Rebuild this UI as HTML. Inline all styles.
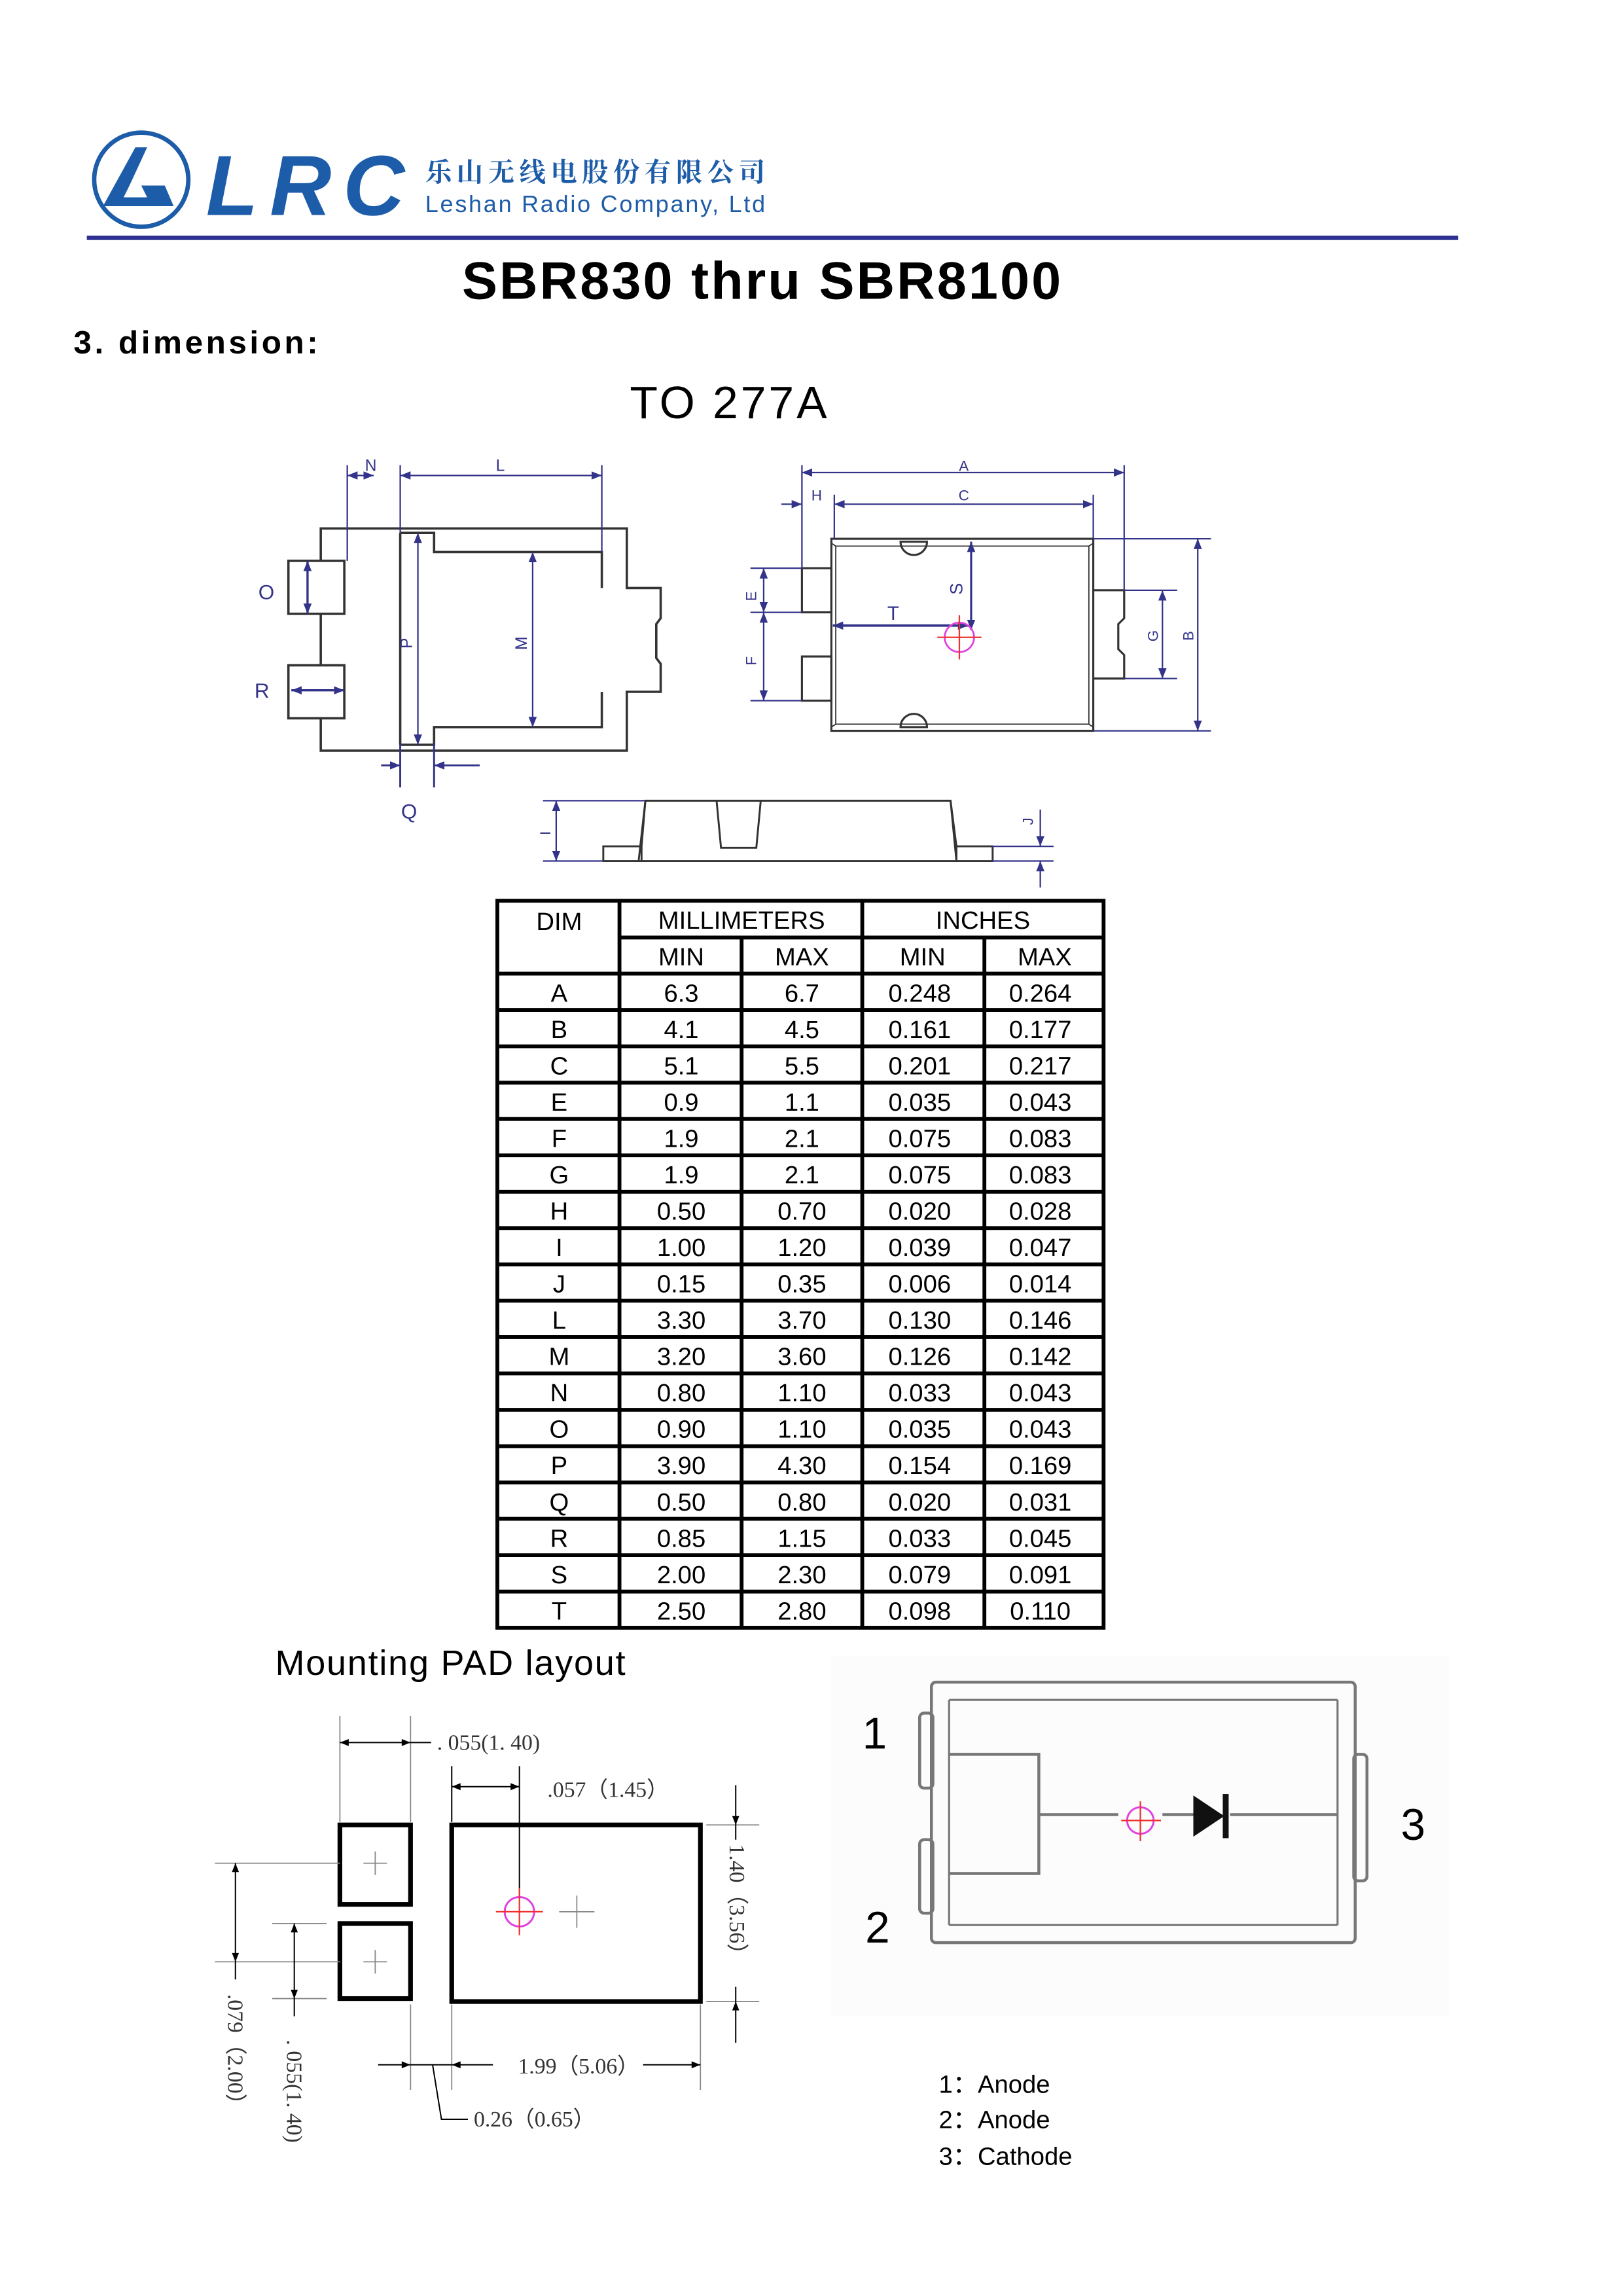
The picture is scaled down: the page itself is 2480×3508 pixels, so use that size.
<!DOCTYPE html>
<html><head><meta charset="utf-8"><style>
html,body{margin:0;padding:0;background:#fff}
svg{display:block}
</style></head><body>
<svg width="2480" height="3508" viewBox="0 0 1103 1560" xmlns="http://www.w3.org/2000/svg" font-family="'Liberation Sans', sans-serif">
<defs>
<marker id="ab" viewBox="0 0 10 10" refX="10" refY="5" markerWidth="7" markerHeight="7" orient="auto-start-reverse" markerUnits="userSpaceOnUse"><path d="M0,1 L10,5 L0,9 z" fill="#33338a"/></marker>
<marker id="ak" viewBox="0 0 10 10" refX="10" refY="5" markerWidth="8" markerHeight="6" orient="auto-start-reverse" markerUnits="userSpaceOnUse"><path d="M0,1 L10,5 L0,9 z" fill="#000"/></marker>
</defs>

<!-- Logo -->
<circle cx="96" cy="122" r="32" fill="none" stroke="#1d5ca8" stroke-width="3"/>
<path d="M70,140 L92,100 L100,100 L88,126 L112,126 L118,140 Z" fill="#1d5ca8"/>
<path d="M84,134 L92,118 L100,134 Z" fill="#fff"/>
<text x="140" y="146" font-size="58" font-weight="bold" font-style="italic" fill="#1d5ca8" textLength="135">LRC</text>
<text x="289" y="123" font-size="18" fill="#1d5ca8" font-family="'Noto Serif CJK SC', serif" font-weight="bold" textLength="231">乐山无线电股份有限公司</text>
<text x="289" y="144" font-size="16" fill="#1d5ca8" textLength="231">Leshan Radio Company, Ltd</text>
<rect x="59" y="160" width="932" height="3" fill="#2e3192"/>

<text x="314" y="203" font-size="36" font-weight="bold" textLength="407">SBR830 thru  SBR8100</text>
<text x="50" y="240" font-size="22" font-weight="bold" textLength="166">3.  dimension:</text>
<text x="428" y="284" font-size="31" textLength="134">TO 277A</text>

<!-- Left view -->
<g fill="none" stroke="#333" stroke-width="1.6">
<path d="M218,381 V359 H426 V399.5 H449 V420 L446,424 V447 L449,451 V470 H426 V510 H218 V488"/>
<path d="M218,417 V452"/>
<rect x="196" y="381" width="38" height="36"/>
<rect x="196" y="452" width="38" height="36"/>
<path d="M272,362 V506"/>
<path d="M272,362 H295 V375 H409 V399.5"/>
<path d="M409,470 V494 H295 V506 H272"/>
</g>
<g stroke="#33338a" stroke-width="1" fill="none">
<line x1="236" y1="316" x2="236" y2="381"/>
<line x1="272" y1="316" x2="272" y2="362"/>
<line x1="409" y1="316" x2="409" y2="375"/>
<line x1="236" y1="323" x2="254" y2="323" marker-start="url(#ab)" marker-end="url(#ab)"/>
<line x1="272" y1="323" x2="409" y2="323" marker-start="url(#ab)" marker-end="url(#ab)"/>
<line x1="209" y1="381" x2="209" y2="417" stroke-width="1.5" marker-start="url(#ab)" marker-end="url(#ab)"/>
<line x1="198" y1="469" x2="234" y2="469" stroke-width="1.5" marker-start="url(#ab)" marker-end="url(#ab)"/>
<line x1="284" y1="362" x2="284" y2="506" marker-start="url(#ab)" marker-end="url(#ab)"/>
<line x1="362" y1="375" x2="362" y2="494" marker-start="url(#ab)" marker-end="url(#ab)"/>
<line x1="272" y1="505" x2="272" y2="535" stroke-width="1.3"/>
<line x1="295" y1="505" x2="295" y2="535" stroke-width="1.3"/>
<line x1="259" y1="520" x2="272" y2="520" stroke-width="1.3" marker-end="url(#ab)"/>
<line x1="326" y1="520" x2="295" y2="520" stroke-width="1.3" marker-end="url(#ab)"/>
</g>
<g fill="#33338a" font-size="11" text-anchor="middle">
<text x="252" y="320">N</text><text x="340" y="320">L</text>
<text x="181" y="407" font-size="14">O</text><text x="178" y="474" font-size="14">R</text>
<text x="278" y="556" font-size="14">Q</text>
<text transform="translate(280,437) rotate(-90)">P</text>
<text transform="translate(358,437) rotate(-90)">M</text>
</g>

<!-- Right view -->
<g fill="none" stroke="#333" stroke-width="1.4">
<rect x="565" y="366" width="178" height="130.5"/>
<path d="M565,369 L568,371 H740 L743,369 M565,494 L568,492 H740 L743,494 M568,371 V492 M740,371 V492" stroke-width="0.8"/>
<rect x="545" y="386" width="20" height="30"/>
<rect x="545" y="446" width="20" height="30"/>
<path d="M743,401 H764 V420 L760,424 V441 L764,445 V461 H743"/>
<path d="M612,368 A9,9 0 0 0 630,368 Z M612,494 A9,9 0 0 1 630,494 Z"/>
</g>
<g stroke="#33338a" stroke-width="1" fill="none">
<line x1="545" y1="316" x2="545" y2="386"/>
<line x1="764" y1="316" x2="764" y2="401"/>
<line x1="567" y1="336" x2="567" y2="366"/>
<line x1="743" y1="336" x2="743" y2="366"/>
<line x1="545" y1="321" x2="764" y2="321" marker-start="url(#ab)" marker-end="url(#ab)"/>
<line x1="567" y1="342.5" x2="743" y2="342.5" marker-start="url(#ab)" marker-end="url(#ab)"/>
<line x1="531" y1="342.5" x2="545" y2="342.5" marker-end="url(#ab)"/>
<line x1="510" y1="386" x2="545" y2="386"/><line x1="510" y1="416" x2="545" y2="416"/><line x1="510" y1="476" x2="545" y2="476"/>
<line x1="519" y1="386" x2="519" y2="416" marker-start="url(#ab)" marker-end="url(#ab)"/>
<line x1="519" y1="416" x2="519" y2="476" marker-start="url(#ab)" marker-end="url(#ab)"/>
<line x1="764" y1="401" x2="800" y2="401"/><line x1="764" y1="461" x2="800" y2="461"/>
<line x1="790" y1="401" x2="790" y2="461" marker-start="url(#ab)" marker-end="url(#ab)"/>
<line x1="743" y1="366" x2="823" y2="366"/><line x1="743" y1="496.5" x2="823" y2="496.5"/>
<line x1="814" y1="366" x2="814" y2="496.5" marker-start="url(#ab)" marker-end="url(#ab)"/>
<line x1="660" y1="368" x2="660" y2="428" stroke-width="1.4" marker-start="url(#ab)" marker-end="url(#ab)"/>
<line x1="566" y1="425" x2="658" y2="425" stroke-width="1.6" marker-start="url(#ab)" marker-end="url(#ab)"/>
</g>
<circle cx="652" cy="433" r="10" fill="none" stroke="#e040e0" stroke-width="1.2"/>
<path d="M637,433 H667 M652,418 V448" stroke="#f03030" stroke-width="1"/>
<g fill="#33338a" font-size="10" text-anchor="middle">
<text x="655" y="320">A</text><text x="655" y="340">C</text><text x="555" y="340">H</text>
<text x="607" y="421" font-size="13">T</text>
<text transform="translate(514,405) rotate(-90)">E</text>
<text transform="translate(514,449) rotate(-90)">F</text>
<text transform="translate(787,432) rotate(-90)">G</text>
<text transform="translate(811,432) rotate(-90)">B</text>
<text transform="translate(654,400) rotate(-90)" font-size="12">S</text>
</g>

<!-- Side view -->
<g fill="none" stroke="#333" stroke-width="1.3">
<path d="M410,585 V575 H436 L438.6,544 H646 L650,575 H674.6 V585 Z"/>
<path d="M434,585 L438.6,544 M650,585 L646,544 M650,575 V585 M436,575 V585"/>
<path d="M487,544 L490,576 H514 L517,544"/>
</g>
<g stroke="#33338a" stroke-width="1" fill="none">
<line x1="369" y1="544" x2="438" y2="544"/><line x1="369" y1="585" x2="410" y2="585"/>
<line x1="378" y1="544" x2="378" y2="585" marker-start="url(#ab)" marker-end="url(#ab)"/>
<line x1="674" y1="575" x2="716" y2="575"/><line x1="674" y1="585" x2="716" y2="585"/>
<line x1="707" y1="550" x2="707" y2="575" marker-end="url(#ab)"/>
<line x1="707" y1="603" x2="707" y2="585" marker-end="url(#ab)"/>
</g>
<g fill="#33338a" font-size="10" text-anchor="middle">
<text transform="translate(374,566) rotate(-90)">I</text>
<text transform="translate(702,558) rotate(-90)">J</text>
</g>

<!-- Table -->
<g stroke="#000" stroke-width="2.6" fill="none">
<rect x="338" y="612" width="412" height="494"/>
<line x1="421" y1="612" x2="421" y2="1106"/>
<line x1="586" y1="612" x2="586" y2="1106"/>
<line x1="504" y1="637" x2="504" y2="1106"/>
<line x1="669" y1="637" x2="669" y2="1106"/>
<line x1="421" y1="637" x2="750" y2="637"/>
<line x1="338" y1="661.5" x2="750" y2="661.5"/>
<line x1="338" y1="686.2" x2="750" y2="686.2"/>
<line x1="338" y1="710.9" x2="750" y2="710.9"/>
<line x1="338" y1="735.6" x2="750" y2="735.6"/>
<line x1="338" y1="760.3" x2="750" y2="760.3"/>
<line x1="338" y1="785" x2="750" y2="785"/>
<line x1="338" y1="809.7" x2="750" y2="809.7"/>
<line x1="338" y1="834.4" x2="750" y2="834.4"/>
<line x1="338" y1="859.1" x2="750" y2="859.1"/>
<line x1="338" y1="883.8" x2="750" y2="883.8"/>
<line x1="338" y1="908.5" x2="750" y2="908.5"/>
<line x1="338" y1="933.2" x2="750" y2="933.2"/>
<line x1="338" y1="957.9" x2="750" y2="957.9"/>
<line x1="338" y1="982.6" x2="750" y2="982.6"/>
<line x1="338" y1="1007.3" x2="750" y2="1007.3"/>
<line x1="338" y1="1032" x2="750" y2="1032"/>
<line x1="338" y1="1056.7" x2="750" y2="1056.7"/>
<line x1="338" y1="1081.4" x2="750" y2="1081.4"/>
</g>
<g font-size="17" text-anchor="middle" fill="#000">
<text x="380" y="632">DIM</text><text x="504" y="631">MILLIMETERS</text><text x="668" y="631">INCHES</text>
<text x="463" y="656">MIN</text><text x="545" y="656">MAX</text><text x="627" y="656">MIN</text><text x="710" y="656">MAX</text>
<text x="380" y="680.5">A</text><text x="463" y="680.5">6.3</text><text x="545" y="680.5">6.7</text><text x="625" y="680.5">0.248</text><text x="707" y="680.5">0.264</text>
<text x="380" y="705.2">B</text><text x="463" y="705.2">4.1</text><text x="545" y="705.2">4.5</text><text x="625" y="705.2">0.161</text><text x="707" y="705.2">0.177</text>
<text x="380" y="729.9">C</text><text x="463" y="729.9">5.1</text><text x="545" y="729.9">5.5</text><text x="625" y="729.9">0.201</text><text x="707" y="729.9">0.217</text>
<text x="380" y="754.6">E</text><text x="463" y="754.6">0.9</text><text x="545" y="754.6">1.1</text><text x="625" y="754.6">0.035</text><text x="707" y="754.6">0.043</text>
<text x="380" y="779.3">F</text><text x="463" y="779.3">1.9</text><text x="545" y="779.3">2.1</text><text x="625" y="779.3">0.075</text><text x="707" y="779.3">0.083</text>
<text x="380" y="804">G</text><text x="463" y="804">1.9</text><text x="545" y="804">2.1</text><text x="625" y="804">0.075</text><text x="707" y="804">0.083</text>
<text x="380" y="828.7">H</text><text x="463" y="828.7">0.50</text><text x="545" y="828.7">0.70</text><text x="625" y="828.7">0.020</text><text x="707" y="828.7">0.028</text>
<text x="380" y="853.4">I</text><text x="463" y="853.4">1.00</text><text x="545" y="853.4">1.20</text><text x="625" y="853.4">0.039</text><text x="707" y="853.4">0.047</text>
<text x="380" y="878.1">J</text><text x="463" y="878.1">0.15</text><text x="545" y="878.1">0.35</text><text x="625" y="878.1">0.006</text><text x="707" y="878.1">0.014</text>
<text x="380" y="902.8">L</text><text x="463" y="902.8">3.30</text><text x="545" y="902.8">3.70</text><text x="625" y="902.8">0.130</text><text x="707" y="902.8">0.146</text>
<text x="380" y="927.5">M</text><text x="463" y="927.5">3.20</text><text x="545" y="927.5">3.60</text><text x="625" y="927.5">0.126</text><text x="707" y="927.5">0.142</text>
<text x="380" y="952.2">N</text><text x="463" y="952.2">0.80</text><text x="545" y="952.2">1.10</text><text x="625" y="952.2">0.033</text><text x="707" y="952.2">0.043</text>
<text x="380" y="976.9">O</text><text x="463" y="976.9">0.90</text><text x="545" y="976.9">1.10</text><text x="625" y="976.9">0.035</text><text x="707" y="976.9">0.043</text>
<text x="380" y="1001.6">P</text><text x="463" y="1001.6">3.90</text><text x="545" y="1001.6">4.30</text><text x="625" y="1001.6">0.154</text><text x="707" y="1001.6">0.169</text>
<text x="380" y="1026.3">Q</text><text x="463" y="1026.3">0.50</text><text x="545" y="1026.3">0.80</text><text x="625" y="1026.3">0.020</text><text x="707" y="1026.3">0.031</text>
<text x="380" y="1051">R</text><text x="463" y="1051">0.85</text><text x="545" y="1051">1.15</text><text x="625" y="1051">0.033</text><text x="707" y="1051">0.045</text>
<text x="380" y="1075.7">S</text><text x="463" y="1075.7">2.00</text><text x="545" y="1075.7">2.30</text><text x="625" y="1075.7">0.079</text><text x="707" y="1075.7">0.091</text>
<text x="380" y="1100.4">T</text><text x="463" y="1100.4">2.50</text><text x="545" y="1100.4">2.80</text><text x="625" y="1100.4">0.098</text><text x="707" y="1100.4">0.110</text>
</g>

<text x="187" y="1138" font-size="24" textLength="238">Mounting PAD layout</text>

<!-- Pad layout -->
<g fill="none" stroke="#000" stroke-width="3.2">
<rect x="231" y="1240" width="48" height="54"/>
<rect x="231" y="1307" width="48" height="51"/>
<rect x="307" y="1240" width="169" height="120"/>
</g>
<g stroke="#888" stroke-width="0.8" fill="none">
<path d="M247,1266 H263 M255,1258 V1274 M247,1333 H263 M255,1325 V1341 M380,1299 H404 M392,1288 V1310"/>
<line x1="231" y1="1166" x2="231" y2="1238"/><line x1="279" y1="1166" x2="279" y2="1238"/>
<line x1="146" y1="1266" x2="231" y2="1266"/><line x1="146" y1="1333" x2="231" y2="1333"/>
<line x1="185" y1="1307" x2="222" y2="1307"/><line x1="185" y1="1358" x2="222" y2="1358"/>
<line x1="480" y1="1240" x2="516" y2="1240"/><line x1="480" y1="1360" x2="516" y2="1360"/>
<line x1="279" y1="1362" x2="279" y2="1420"/><line x1="307" y1="1362" x2="307" y2="1420"/><line x1="476" y1="1362" x2="476" y2="1420"/>
</g>
<g stroke="#000" stroke-width="0.9" fill="none">
<line x1="231" y1="1184" x2="279" y2="1184" marker-start="url(#ak)" marker-end="url(#ak)"/>
<line x1="279" y1="1184" x2="293" y2="1184"/>
<line x1="307" y1="1200" x2="307" y2="1238"/><line x1="353" y1="1200" x2="353" y2="1290"/>
<line x1="307" y1="1214" x2="353" y2="1214" marker-start="url(#ak)" marker-end="url(#ak)"/>
<line x1="500" y1="1213" x2="500" y2="1240" marker-end="url(#ak)"/>
<line x1="500" y1="1388" x2="500" y2="1360" marker-end="url(#ak)"/>
<line x1="500" y1="1240" x2="500" y2="1250"/><line x1="500" y1="1350" x2="500" y2="1360"/>
<line x1="160" y1="1266" x2="160" y2="1333" marker-start="url(#ak)" marker-end="url(#ak)"/>
<line x1="160" y1="1333" x2="160" y2="1345"/>
<line x1="200" y1="1307" x2="200" y2="1358" marker-start="url(#ak)" marker-end="url(#ak)"/>
<line x1="200" y1="1358" x2="200" y2="1370"/>
<line x1="257" y1="1403" x2="279" y2="1403" marker-end="url(#ak)"/>
<line x1="279" y1="1403" x2="307" y2="1403"/>
<line x1="335" y1="1403" x2="307" y2="1403" marker-end="url(#ak)"/>
<line x1="437" y1="1403" x2="476" y2="1403" marker-end="url(#ak)"/>
<path d="M294,1403 L300,1440 H318"/>
</g>
<circle cx="353" cy="1299" r="10" fill="none" stroke="#e040e0" stroke-width="1.3"/>
<path d="M337,1299 H369 M353,1283 V1315" stroke="#f03030" stroke-width="1"/>
<g font-family="'Liberation Serif', serif" font-size="15" fill="#333">
<text x="297" y="1189">. 055(1. 40)</text>
<text x="372" y="1221">.057（1.45）</text>
<text x="352" y="1409">1.99（5.06）</text>
<text x="322" y="1445">0.26（0.65）</text>
<text transform="translate(496,1253) rotate(90)">1.40（3.56）</text>
<text transform="translate(155,1355) rotate(90)">.079（2.00）</text>
<text transform="translate(195,1386) rotate(90)">. 055(1. 40)</text>
</g>

<!-- Package schematic -->
<rect x="565" y="1125" width="420" height="245" fill="#fcfcfc"/>
<g fill="none" stroke="#777" stroke-width="2">
<rect x="633" y="1143" width="288" height="177" rx="3"/>
<path d="M645,1155 H909 M645,1308 H909 M645,1155 V1308 M909,1155 V1308" stroke-width="1.4"/>
<rect x="625" y="1164" width="9" height="51" rx="3"/>
<rect x="625" y="1250" width="9" height="50" rx="3"/>
<rect x="920" y="1192" width="9" height="86" rx="3"/>
<path d="M645,1192 H706 V1273 H645 M706,1233 H760 M790,1233 H812 M836,1233 H909"/>
</g>
<circle cx="775" cy="1237" r="9" fill="none" stroke="#e040e0" stroke-width="1.3"/>
<path d="M762,1237 H789 M775,1224 V1251" stroke="#f03030" stroke-width="1"/>
<path d="M811,1220 L832,1234 L811,1248 Z" fill="#111"/>
<rect x="831" y="1219" width="4" height="30" fill="#111"/>
<g font-family="'Liberation Sans', 'Noto Sans CJK SC', sans-serif" font-size="30" fill="#000">
<text x="586" y="1188">1</text><text x="588" y="1320">2</text><text x="952" y="1250">3</text>
</g>
<g font-family="'Liberation Sans', 'Noto Sans CJK SC', sans-serif" font-size="17" fill="#000">
<text x="638" y="1422">1：Anode</text>
<text x="638" y="1446">2：Anode</text>
<text x="638" y="1471">3：Cathode</text>
</g>
</svg>
</body></html>
